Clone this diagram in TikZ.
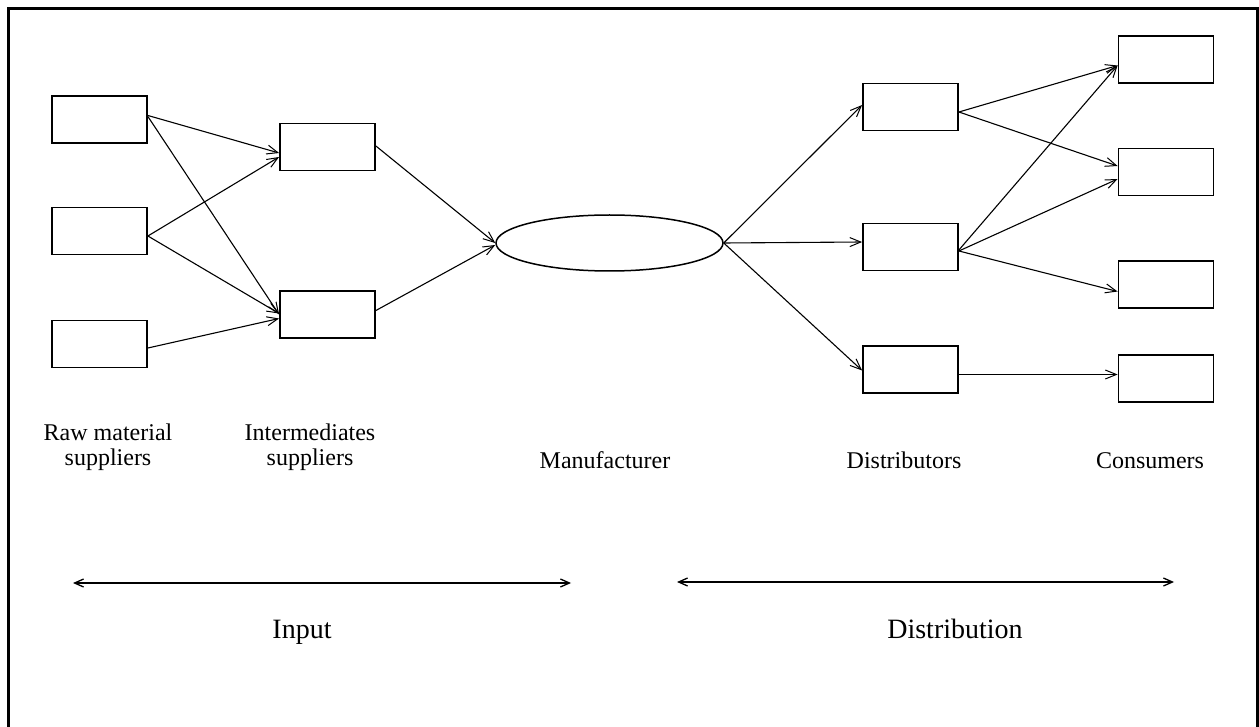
\documentclass[tikz,border=0pt]{standalone}
\usepackage{fontspec}
\setmainfont{Liberation Serif}
\usetikzlibrary{arrows.meta,shapes.geometric}
\begin{document}
\begin{tikzpicture}[x=1pt,y=-1pt,
  box/.style={draw,line width=1.8pt,minimum width=95pt,minimum height=47pt,inner sep=0pt},
  maker/.style={draw,ellipse,line width=1.5pt,minimum width=227pt,minimum height=56pt,inner sep=0pt},
  flow/.style={line width=1.1pt,-{Straight Barb[length=11pt,width=9pt,line width=1pt]}},
  span/.style={line width=1.3pt,{Straight Barb[length=9pt,width=8pt,line width=1.3pt]}-{Straight Barb[length=9pt,width=8pt,line width=1.3pt]}},
  stage/.style={font=\fontsize{24}{25}\selectfont,align=center,inner sep=0pt},
  part/.style={font=\fontsize{28}{30}\selectfont,inner sep=0pt,anchor=base}]
\useasboundingbox (0,0) rectangle (1259,727);
% frame
\draw[line width=3pt] (8.5,760) -- (8.5,8.5) -- (1257,8.5) -- (1257,760);

% raw material suppliers
\node[box] (r1) at (99.5,119.5) {};
\node[box] (r2) at (99.5,231) {};
\node[box] (r3) at (99.5,344) {};
% intermediates suppliers
\node[box] (i1) at (327.5,147) {};
\node[box] (i2) at (327.5,314.5) {};
% manufacturer
\node[maker] (m) at (609.5,243) {};
% distributors
\node[box] (d1) at (910.5,107) {};
\node[box] (d2) at (910.5,247) {};
\node[box] (d3) at (910.5,369.5) {};
% consumers
\node[box] (c1) at (1166,59.5) {};
\node[box] (c2) at (1166,172) {};
\node[box] (c3) at (1166,284.5) {};
\node[box] (c4) at (1166,378.5) {};

% input side
\draw[flow] ([yshift=4pt]r1.east) -- ([yshift=-6pt]i1.west);
\draw[flow] ([yshift=3pt]r1.east) -- (i2.west);
\draw[flow] ([yshift=-5pt]r2.east) -- ([yshift=-10pt]i1.west);
\draw[flow] ([yshift=-5pt]r2.east) -- ([yshift=1pt]i2.west);
\draw[flow] ([yshift=-4pt]r3.east) -- ([yshift=-4pt]i2.west);
\draw[flow] ([yshift=1pt]i1.east) -- (m.west);
\draw[flow] ([yshift=4pt]i2.east) -- ([yshift=-2pt]m.west);

% distribution side
\draw[flow] (m.east) -- ([yshift=2pt]d1.west);
\draw[flow] (m.east) -- ([yshift=5pt]d2.west);
\draw[flow] (m.east) -- ([yshift=-1pt]d3.west);
\draw[flow] ([yshift=-5pt]d1.east) -- ([yshift=-6pt]c1.west);
\draw[flow] ([yshift=-5pt]d1.east) -- ([yshift=6pt]c2.west);
\draw[flow] ([yshift=-3pt]d2.east) -- ([yshift=-6pt]c1.west);
\draw[flow] ([yshift=-4pt]d2.east) -- ([yshift=-7pt]c2.west);
\draw[flow] ([yshift=-4pt]d2.east) -- ([yshift=-7pt]c3.west);
\draw[flow] ([yshift=-5pt]d3.east) -- ([yshift=4pt]c4.west);

% stage labels
\node[stage] (lr) at (108,447) {Raw material\\suppliers};
\node[stage] (li) at (310,447) {Intermediates\\suppliers};
\node[stage,anchor=base] (lm) at (605,468) {Manufacturer};
\node[stage,anchor=base] (ld) at (904,468) {Distributors};
\node[stage,anchor=base] (lc) at (1150,468) {Consumers};

% input and distribution spans
\coordinate (a1) at (73,583);
\coordinate (a2) at (571,583);
\coordinate (b1) at (677,582);
\coordinate (b2) at (1174,582);
\draw[span] (a1) -- (a2);
\draw[span] (b1) -- (b2);
\node[part] (pin) at (302,638) {Input};
\node[part] (pdist) at (955,638) {Distribution};
\end{tikzpicture}
\end{document}
